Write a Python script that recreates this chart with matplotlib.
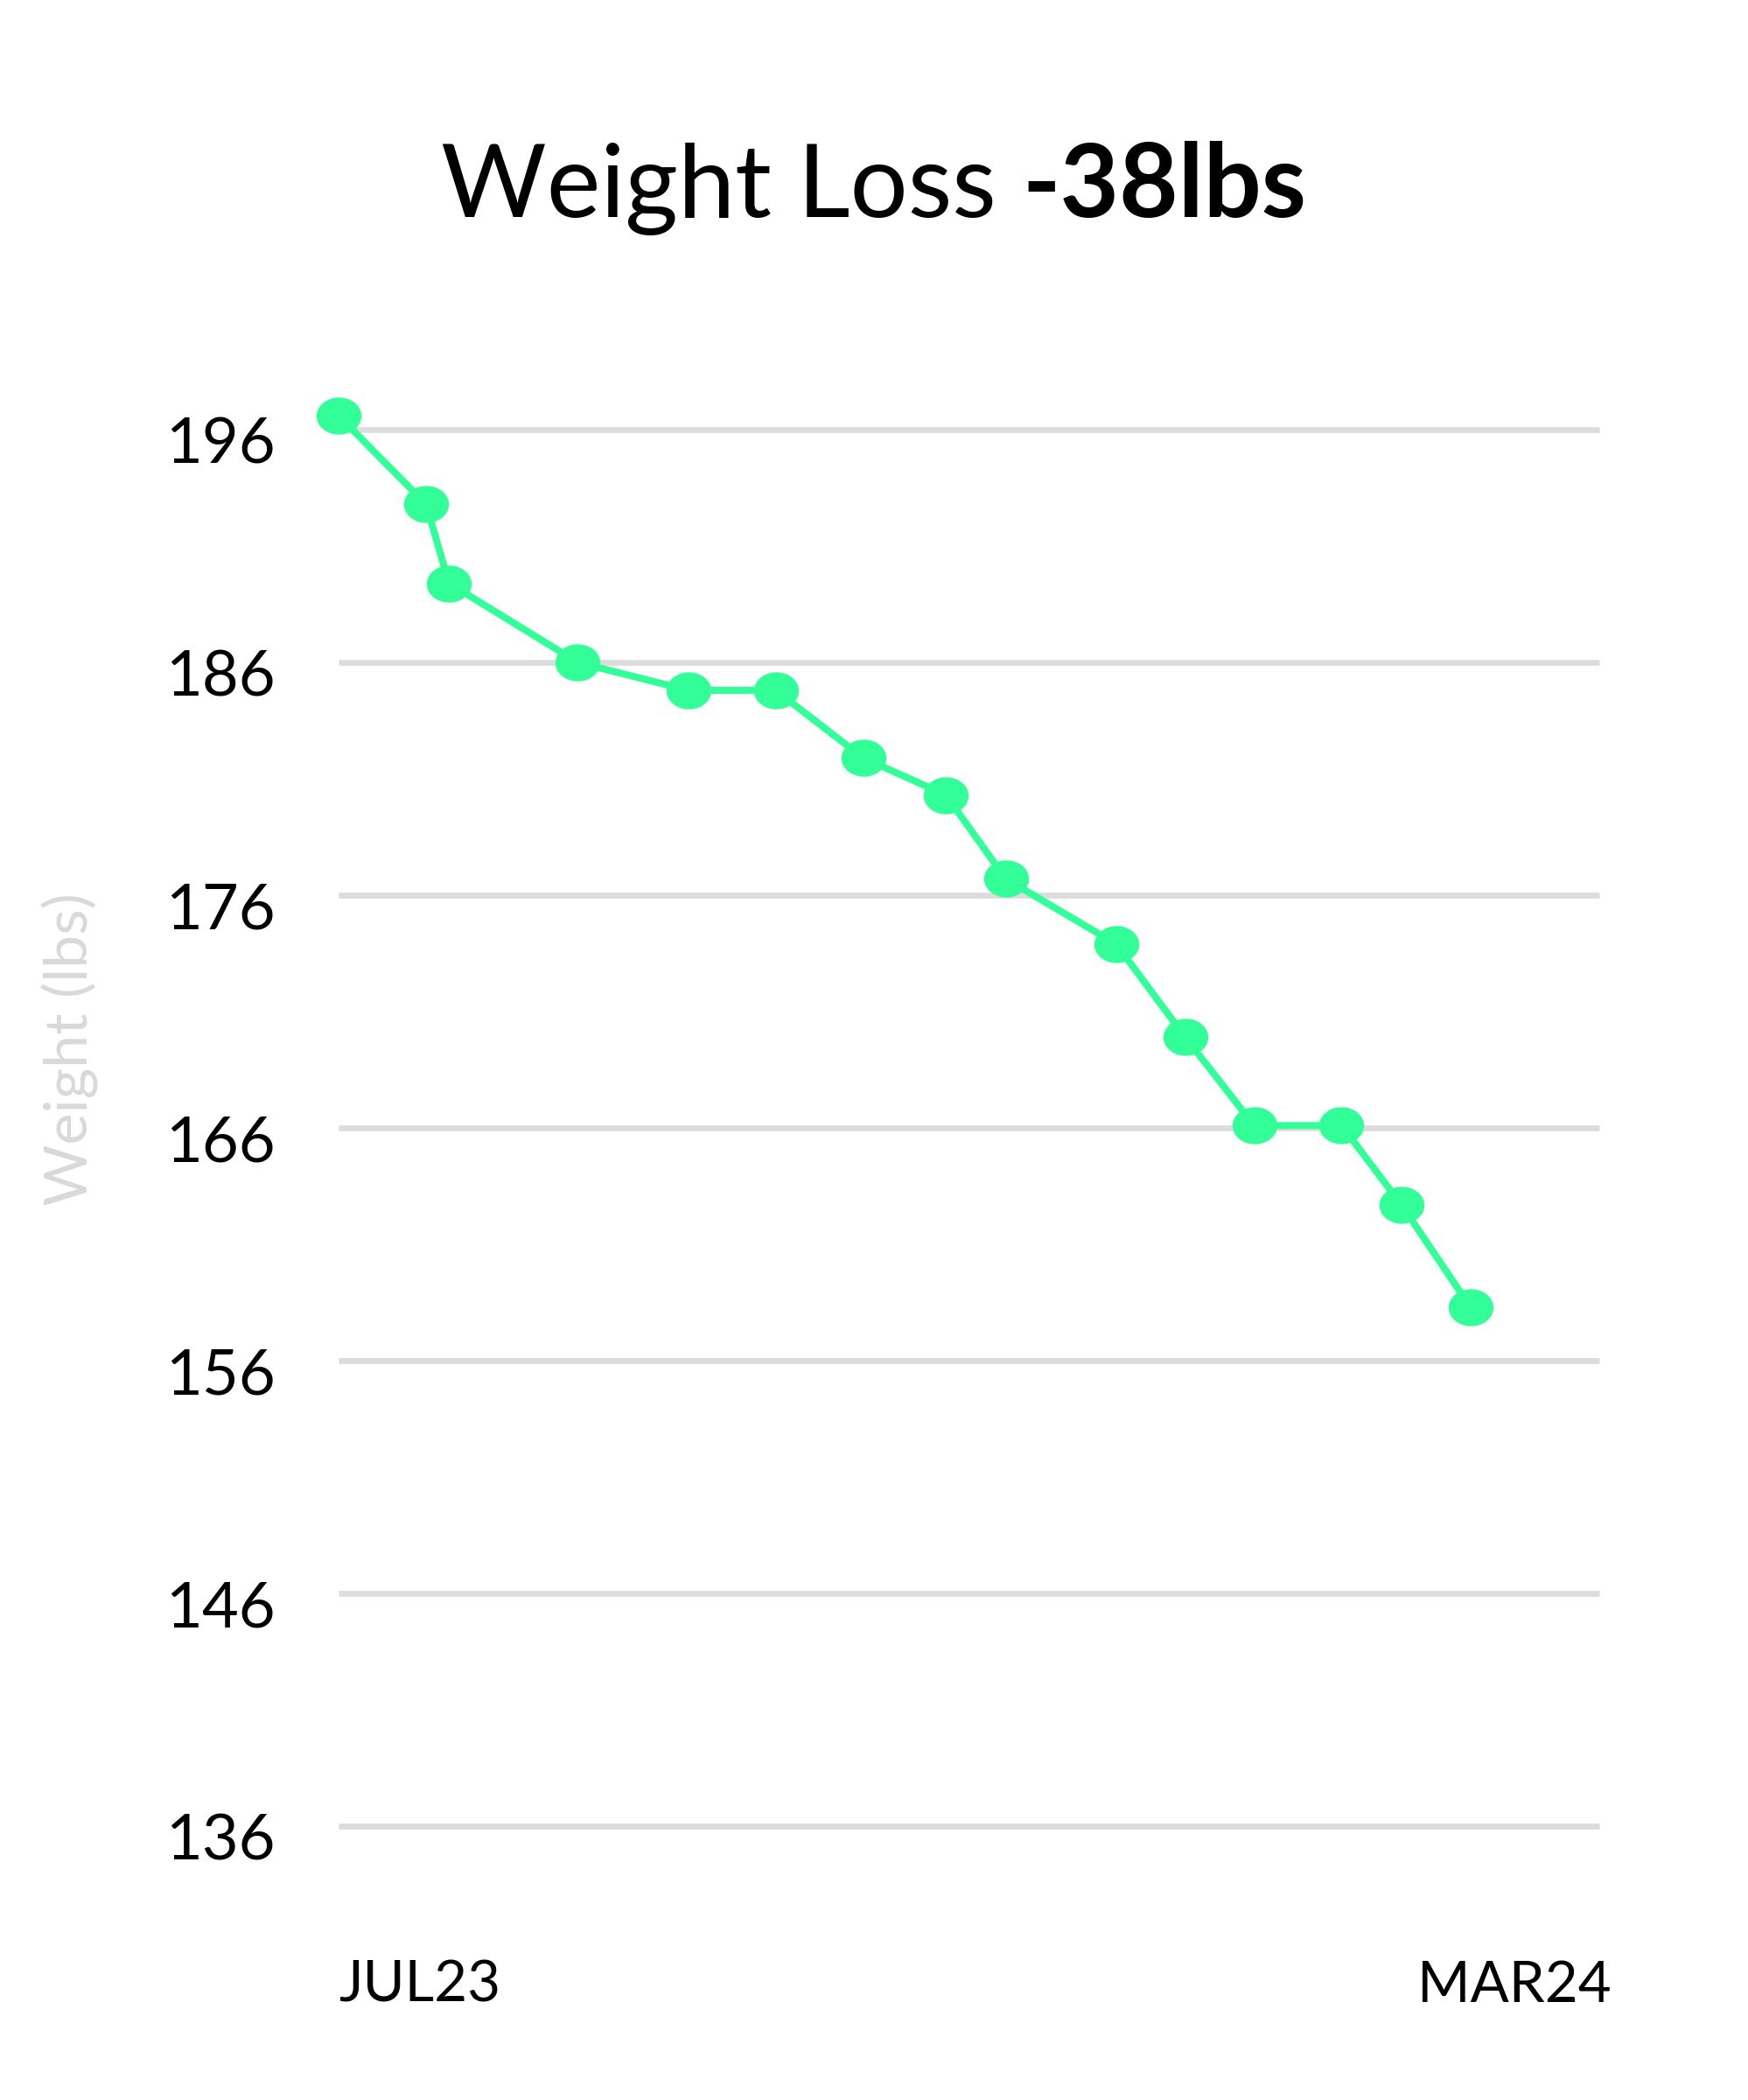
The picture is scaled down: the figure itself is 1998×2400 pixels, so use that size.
import matplotlib
matplotlib.use('Agg')
import matplotlib.pyplot as plt
import numpy as np
import pandas as pd
from matplotlib.path import Path
from matplotlib.transforms import ScaledTranslation

# ---- data ----
dates = ['2023-07-01', '2023-07-20', '2023-07-25', '2023-08-22', '2023-09-15',
         '2023-10-04', '2023-10-23', '2023-11-10', '2023-11-23', '2023-12-17',
         '2024-01-01', '2024-01-16', '2024-02-04', '2024-02-17', '2024-03-03']
weights = [196.6, 192.8, 189.4, 186.0, 184.8, 184.8, 181.9, 180.3, 176.7,
           173.9, 169.9, 166.1, 166.1, 162.7, 158.3]
y_ticks = [136, 146, 156, 166, 176, 186, 196]
x_range = ['2023-07-01', '2024-03-31']
x_labels = ['JUL23', 'MAR24']
title_regular = 'Weight Loss '
title_bold = '-38lbs'
y_title = 'Weight (lbs)'

FONT = 'Lato'
GREEN = '#33ff99'
GRID = '#dcdcdc'

W, H, DPI = 1998, 2400, 100
fig = plt.figure(figsize=(W / DPI, H / DPI), dpi=DPI)
fig.patch.set_facecolor('white')

left, right = 387, 1828
top, bottom = 491, 2087
ax = fig.add_axes([left / W, 1 - bottom / H, (right - left) / W, (bottom - top) / H])

x = pd.to_datetime(dates)
xr = pd.to_datetime(x_range)

# ellipse marker
theta = np.linspace(0, 2 * np.pi, 60)
verts = np.column_stack([np.cos(theta), 0.82 * np.sin(theta)])
ell = Path(verts, closed=True)

ax.plot(x, weights, color=GREEN, lw=5.8, marker=ell, markersize=36,
        markerfacecolor=GREEN, markeredgecolor=GREEN, clip_on=False, zorder=3,
        solid_joinstyle='round')

ax.set_xlim(xr[0], xr[1])
ax.set_ylim(y_ticks[0], y_ticks[-1])
ax.set_yticks(y_ticks)
ax.set_yticklabels([str(v) for v in y_ticks])
ax.set_xticks(xr)
ax.set_xticklabels(x_labels)

for s in ax.spines.values():
    s.set_visible(False)
ax.grid(axis='y', color=GRID, lw=4.8)
ax.grid(axis='x', visible=False)
for gl in ax.get_ygridlines():
    gl.set_clip_on(False)
    gl.set_solid_capstyle('butt')
ax.set_axisbelow(True)
ax.tick_params(axis='both', length=0)
ax.tick_params(axis='y', pad=52, labelsize=52, labelcolor='black')
ax.tick_params(axis='x', pad=110, labelsize=47, labelcolor='black')

for lab in ax.get_yticklabels():
    lab.set_fontfamily(FONT)
    lab.set_transform(lab.get_transform() + ScaledTranslation(0, -12 / DPI, fig.dpi_scale_trans))
xl = ax.get_xticklabels()
for lab in xl:
    lab.set_fontfamily(FONT)
xl[0].set_horizontalalignment('left')
xl[1].set_horizontalalignment('right')
xl[1].set_transform(xl[1].get_transform() + ScaledTranslation(14 / DPI, 0, fig.dpi_scale_trans))

# y axis title
fig.text(80 / W, 1 - 1199 / H, y_title, rotation=90, ha='center', va='center',
         fontsize=49, color='#d9d9d9', fontfamily=FONT)

# title: regular + bold, centered
renderer = fig.canvas.get_renderer()
t1 = fig.text(0, 1 - 248 / H, title_regular, fontsize=84, fontfamily=FONT,
              ha='left', va='baseline', color='black')
t2 = fig.text(0, 1 - 248 / H, title_bold, fontsize=84, fontfamily=FONT,
              fontweight='bold', ha='left', va='baseline', color='black')
w1 = t1.get_window_extent(renderer).width
w2 = t2.get_window_extent(renderer).width
total = w1 + w2
x0 = (W - total) / 2
t1.set_x(x0 / W)
t2.set_x((x0 + w1) / W)

fig.savefig('out.png', dpi=DPI, facecolor='white')
